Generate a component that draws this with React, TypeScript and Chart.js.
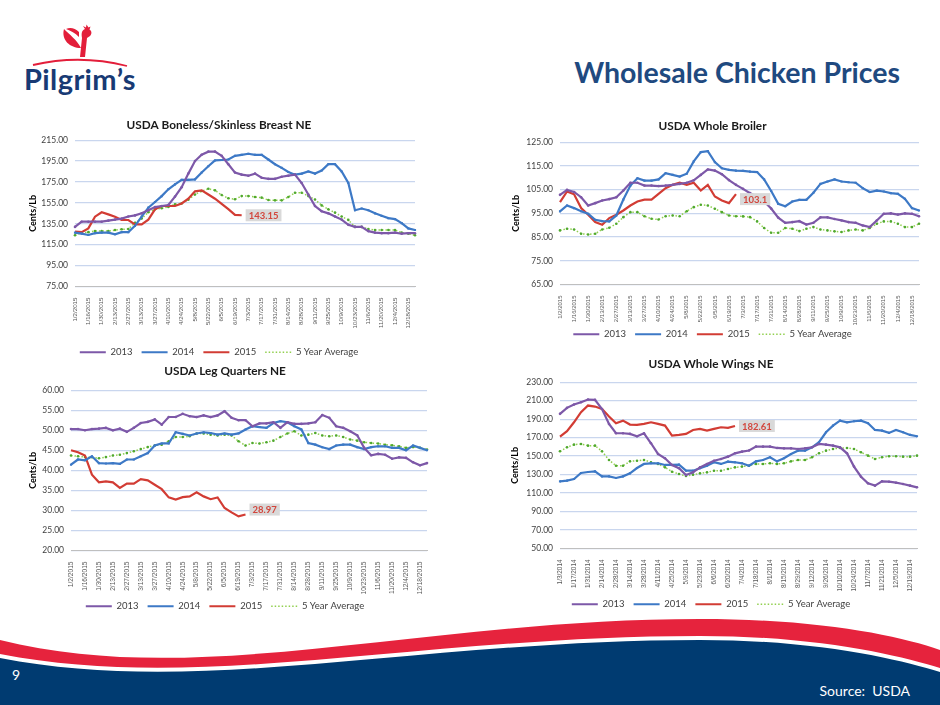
import { useEffect, useRef } from "react";
import { Chart, registerables } from "chart.js";

Chart.register(...registerables);
Chart.defaults.font.family = "Lato, 'Open Sans', sans-serif";

const weeks2015 = [
  "1/2/2015", "1/9/2015", "1/16/2015", "1/23/2015", "1/30/2015", "2/6/2015", "2/13/2015", "2/20/2015",
  "2/27/2015", "3/6/2015", "3/13/2015", "3/20/2015", "3/27/2015", "4/3/2015", "4/10/2015", "4/17/2015",
  "4/24/2015", "5/1/2015", "5/8/2015", "5/15/2015", "5/22/2015", "5/29/2015", "6/5/2015", "6/12/2015",
  "6/19/2015", "6/26/2015", "7/3/2015", "7/10/2015", "7/17/2015", "7/24/2015", "7/31/2015", "8/7/2015",
  "8/14/2015", "8/21/2015", "8/28/2015", "9/4/2015", "9/11/2015", "9/18/2015", "9/25/2015", "10/2/2015",
  "10/9/2015", "10/16/2015", "10/23/2015", "10/30/2015", "11/6/2015", "11/13/2015", "11/20/2015", "11/27/2015",
  "12/4/2015", "12/11/2015", "12/18/2015", "12/25/2015",
];

const weeks2014 = [
  "1/3/2014", "1/10/2014", "1/17/2014", "1/24/2014", "1/31/2014", "2/7/2014", "2/14/2014", "2/21/2014",
  "2/28/2014", "3/7/2014", "3/14/2014", "3/21/2014", "3/28/2014", "4/4/2014", "4/11/2014", "4/18/2014",
  "4/25/2014", "5/2/2014", "5/9/2014", "5/16/2014", "5/23/2014", "5/30/2014", "6/6/2014", "6/13/2014",
  "6/20/2014", "6/27/2014", "7/4/2014", "7/11/2014", "7/18/2014", "7/25/2014", "8/1/2014", "8/8/2014",
  "8/15/2014", "8/22/2014", "8/29/2014", "9/5/2014", "9/12/2014", "9/19/2014", "9/26/2014", "10/3/2014",
  "10/10/2014", "10/17/2014", "10/24/2014", "10/31/2014", "11/7/2014", "11/14/2014", "11/21/2014", "11/28/2014",
  "12/5/2014", "12/12/2014", "12/19/2014", "12/26/2014",
];

const seriesNames = ["2013", "2014", "2015", "5 Year Average"];

// USDA Boneless/Skinless Breast NE
const breast2013 = [132, 137, 137, 137, 137, 138, 139, 140, 142, 143, 145, 148, 151, 152, 153, 161, 170, 183, 195, 201, 204, 204, 200, 192, 184, 182, 181, 183, 179, 178, 178, 180, 181, 182, 174, 163, 152, 147, 145, 142, 139, 134, 132, 132, 128, 126.5, 126, 126, 126.5, 125.5, 126, 126];
const breast2014 = [126.5, 125.6, 124.3, 126, 126.5, 126.5, 125, 127, 127, 133, 141.8, 150.4, 155.8, 161.5, 168, 172.7, 177, 177, 177.5, 184, 190, 195.6, 196, 196.5, 200, 201, 202, 201, 201, 196.5, 192, 188.5, 184.5, 182, 183, 185, 183, 186, 192, 192, 185, 174, 148, 149.6, 148, 145, 142.6, 140.4, 139.5, 135.6, 130.6, 129];
const breast2015 = [127.5, 127, 130.6, 141.8, 146, 144, 141.8, 138.6, 138.6, 134.5, 134.5, 139, 148.8, 152, 152, 152, 154.5, 159, 166, 167, 163, 159, 154, 149, 143.5, 143.15];
const breastAvg = [124, 126.5, 127, 128, 128, 128, 129, 129.7, 130, 136, 140, 146, 148.8, 149.8, 151, 153.6, 154.5, 158, 163, 166.3, 168.5, 167, 162.5, 159.4, 158.5, 161.5, 161.5, 160.6, 160, 157.7, 157.4, 157.4, 160.6, 164.7, 164.7, 161.5, 158.3, 152.6, 148.8, 145.7, 141.9, 138.7, 132, 132, 130, 129, 129, 129, 129, 126.5, 125.5, 124];

// USDA Whole Broiler
const broiler2013 = [102.8, 104.9, 104, 101.8, 98.3, 99.3, 100.4, 101, 101.8, 104.6, 107.9, 107.9, 106.7, 106.7, 106.5, 106.7, 107, 107.4, 107.9, 108.9, 111.2, 113.5, 113, 111.5, 109, 107, 105.3, 103.5, 102, 100, 97, 93.2, 91, 91.3, 91.7, 90.3, 91, 93.3, 93.3, 92.6, 92, 91.3, 91, 89.9, 89.2, 92, 94.8, 95, 94.5, 95, 94.8, 93.8];
const broiler2014 = [95.8, 98.3, 97.2, 95.9, 94.8, 92.3, 91.7, 91.6, 94.1, 100.8, 106.7, 109.8, 108.8, 108.8, 109.3, 111.9, 111.2, 110.5, 111.7, 116.9, 120.8, 121.2, 116.6, 114, 113.3, 113, 112.9, 112.6, 112.4, 109.3, 104.4, 99, 98, 100, 100.7, 100.7, 103.7, 107.4, 108.4, 109.3, 108.4, 108.1, 107.9, 105.6, 104, 104.6, 104.2, 103.5, 103.2, 101.1, 97.2, 96.2];
const broiler2015 = [99.7, 104.2, 103, 97.2, 94.4, 91.3, 90.2, 93, 94.4, 96.2, 98.3, 100, 100.8, 100.8, 103.2, 105.6, 107, 107.9, 107, 107.9, 104.6, 107, 102.1, 100.4, 99.3, 103.1];
const broilerAvg = [87.8, 88.5, 88.2, 86.4, 86.1, 86.4, 88.2, 88.9, 90.6, 93.4, 95.5, 95.5, 93.8, 92.7, 92.4, 93.8, 94.1, 93.8, 95.9, 97.6, 98.6, 98.3, 96.9, 95.5, 94.1, 93.8, 93.7, 93.4, 91.6, 88.8, 86.8, 86.8, 88.8, 88.5, 87.5, 88.5, 89.2, 88.2, 87.8, 87.4, 87.1, 87.8, 88.2, 87.8, 88.8, 90.6, 91.6, 91.6, 90.6, 89.2, 89.2, 90.6];

// USDA Leg Quarters NE
const leg2013 = [50.3, 50.3, 50, 50.3, 50.4, 50.6, 50, 50.4, 49.6, 50.6, 51.8, 52.1, 52.7, 51.4, 53.3, 53.3, 54.1, 53.5, 53.3, 53.7, 53.3, 53.7, 54.75, 53.1, 52.5, 52.5, 51, 51.7, 51.7, 52, 50.6, 52, 51.6, 51.6, 51.7, 52, 53.8, 53.1, 51, 50.6, 49.75, 48.75, 45.6, 43.75, 44.1, 43.9, 42.9, 43.25, 43.1, 42, 41.25, 41.8];
const leg2014 = [41.4, 42.7, 42.5, 43.5, 41.8, 41.7, 41.8, 41.6, 42.7, 42.7, 43.5, 44.3, 46.2, 46.7, 46.7, 49.5, 49.1, 48.7, 49.2, 49.5, 49.3, 48.9, 49.2, 48.9, 49.2, 50.2, 51, 50.8, 50.6, 51.8, 52.25, 52, 51, 50.2, 46.8, 46.4, 45.75, 45.3, 46.2, 46.4, 46.4, 45.8, 45.3, 45.8, 46, 46, 45.6, 45.6, 45, 46.2, 45.6, 45];
const leg2015 = [45, 44.5, 43.7, 38.9, 37, 37.25, 37, 35.6, 36.7, 36.7, 37.8, 37.5, 36.4, 35.3, 33.25, 32.7, 33.3, 33.5, 34.5, 33.5, 32.8, 33.25, 30.6, 29.5, 28.5, 28.97];
const legAvg = [43.7, 43.5, 43.3, 43.25, 43, 43.3, 43.7, 43.9, 44.3, 44.75, 45.3, 45.8, 46.2, 46.4, 47.25, 48.3, 48.3, 48.5, 49.2, 49.2, 48.9, 48.7, 48.9, 48.7, 47.25, 46.2, 46.8, 46.7, 47, 47.4, 48.3, 49.2, 49.75, 48.7, 48.9, 49.3, 48.7, 48.5, 48.7, 48.3, 47.7, 47.4, 47, 46.8, 46.7, 46.4, 46.25, 46, 45.6, 45.8, 45.6, 45.2];

// USDA Whole Wings NE
const wings2013 = [195.7, 202.2, 205.8, 208.3, 211.2, 210.8, 201, 184.8, 174.7, 174.7, 174, 171.5, 174.7, 163.9, 152.3, 147.6, 140.4, 136.8, 129.5, 132.4, 137.8, 141.5, 145, 146.9, 149.4, 153, 154.8, 156, 160.2, 160.2, 160.2, 158.8, 158.4, 158.4, 157.7, 158.4, 159.5, 163.1, 162.4, 161.3, 159.5, 153, 138.6, 127.7, 120.5, 118, 122.7, 122.3, 121.2, 119.8, 118, 116.2];
const wings2014 = [122.7, 123.4, 125.2, 131.7, 132.8, 133.5, 128.1, 128.1, 126.3, 128.1, 131.3, 137.1, 141.5, 142.2, 142.2, 140.4, 140.4, 140.7, 134.2, 134.2, 136.8, 139.6, 143.3, 141.5, 144, 143.3, 142.2, 139.6, 144.3, 145.8, 148.7, 144.3, 147.6, 152.3, 155.9, 155.9, 159.5, 165, 175.8, 183, 188.4, 186.6, 187.7, 188.4, 185.5, 178.3, 177.6, 175.1, 178.3, 175.8, 172.9, 171.5];
const wings2015 = [171.1, 176.9, 186.6, 197.5, 204.7, 203.6, 201.1, 192.8, 185.5, 188.4, 184.1, 183.7, 184.8, 186.6, 184.8, 183, 172.2, 172.9, 174, 178.3, 179.4, 177.6, 179.4, 181.2, 180.5, 182.61];
const wingsAvg = [155.2, 159.5, 162.4, 163.1, 161.3, 161.3, 155.2, 145.8, 139.6, 139.6, 144.3, 145, 145.8, 143.3, 141.5, 137.8, 133.1, 130.6, 128.4, 129.9, 131.3, 132.4, 134.2, 134.2, 136, 137.8, 138.6, 139.6, 141.5, 141.5, 142.2, 141.5, 142.2, 144.3, 145.8, 145.8, 148.7, 153, 155.9, 157.7, 158.8, 158.8, 157.7, 154.1, 150.5, 146.9, 148.7, 149.8, 149.8, 149.4, 149.4, 150.5];

const purple = "#7D58A8";
const blue = "#3D79C6";
const red = "#D23C34";
const green = "#92D050";
const greenDot = "#4FA82E";
const navy = "#1F4A80";
const tickFont = "'Liberation Sans', Arial, sans-serif";

// draws the grey call-out with the latest 2015 value next to its point
const lastValueLabel = {
  id: "lastValueLabel",
  afterDatasetsDraw(chart: any, _args: any, opts: any) {
    const meta = chart.getDatasetMeta(2);
    const pts = meta.data;
    if (!pts.length) return;
    const p = pts[pts.length - 1];
    const values = chart.data.datasets[2].data;
    const text = String(values[values.length - 1]);
    const dy = opts.dy || 0;
    const ctx = chart.ctx;
    ctx.save();
    ctx.font = "bold 9.5px Lato, sans-serif";
    const w = ctx.measureText(text).width + 6;
    const h = 12;
    const x = p.x + 4;
    const y = p.y + dy;
    ctx.fillStyle = "#D9D9D9";
    ctx.fillRect(x, y - h / 2, w, h);
    ctx.fillStyle = "#D2463C";
    ctx.textBaseline = "middle";
    ctx.fillText(text, x + 3, y + 0.5);
    ctx.restore();
  },
};

// rotated date labels may run a little past the axis box, so don't clip them
const noTickClip = {
  id: "noTickClip",
  beforeDraw(chart: any) {
    chart.scales.x._computeLabelArea = () => undefined;
  },
};

type PanelProps = {
  title: string;
  labels: string[];
  series: number[][];
  yMin: number;
  yMax: number;
  yStep: number;
  left: number;
  top: number;
  width: number;
  height: number;
  yAxisWidth: number;
  xAxisHeight: number;
  xTickSize: number;
  titlePadBottom: number;
  padRight: number;
  labelDy: number;
};

function PricePanel(props: PanelProps) {
  const canvasRef = useRef<HTMLCanvasElement>(null);

  useEffect(() => {
    if (!canvasRef.current) return;
    const { labels, series } = props;
    const colors = [purple, blue, red, green];

    const chart = new Chart(canvasRef.current, {
      type: "line",
      data: {
        labels,
        datasets: series.map((data, i) => ({
          label: seriesNames[i],
          data,
          borderColor: colors[i],
          backgroundColor: i === 3 ? greenDot : colors[i],
          borderWidth: i === 3 ? 1.5 : 2.2,
          borderDash: i === 3 ? [1.5, 2] : [],
          pointRadius: i === 2 ? 0 : i === 1 ? 1.5 : 1.3,
          pointStyle: i === 1 ? "rect" : "circle",
          pointBorderWidth: 0,
          tension: 0,
        })),
      },
      options: {
        animation: false,
        responsive: true,
        maintainAspectRatio: false,
        layout: { padding: { right: props.padRight } },
        plugins: {
          title: {
            display: true,
            text: props.title,
            color: "#1a1a1a",
            font: { size: 11.8, weight: "bold" },
            padding: { top: 6, bottom: props.titlePadBottom },
          },
          legend: {
            position: "bottom",
            labels: {
              usePointStyle: true,
              pointStyleWidth: 26,
              color: "#404040",
              font: { size: 9.5 },
              padding: 9,
              generateLabels: (c: any) =>
                c.data.datasets.map((ds: any, i: number) => ({
                  text: ds.label,
                  fillStyle: ds.borderColor,
                  strokeStyle: ds.borderColor,
                  lineWidth: ds.borderWidth,
                  lineDash: ds.borderDash,
                  pointStyle: "line",
                  fontColor: "#404040",
                  hidden: false,
                  datasetIndex: i,
                })),
            },
          },
          tooltip: { enabled: false },
          lastValueLabel: { dy: props.labelDy },
        },
        scales: {
          x: {
            grid: { display: false },
            border: { display: true, color: "#BFBFBF" },
            ticks: {
              autoSkip: false,
              minRotation: 90,
              maxRotation: 90,
              padding: 3,
              color: "#595959",
              font: { size: props.xTickSize, family: tickFont },
              callback: (_v: any, i: number) => (i % 2 === 0 ? labels[i] : ""),
            },
            afterFit: (scale: any) => {
              scale.height = props.xAxisHeight;
            },
          },
          y: {
            min: props.yMin,
            max: props.yMax,
            grid: { color: "#C9D6EE", lineWidth: 1.2, drawTicks: false },
            border: { display: false },
            ticks: {
              stepSize: props.yStep,
              padding: 7,
              color: "#404040",
              font: { size: 8.5 },
              callback: (v: any) => Number(v).toFixed(2),
            },
            title: {
              display: true,
              text: "Cents/Lb",
              color: "#000",
              font: { size: 9, weight: "bold" },
              padding: { top: 5, bottom: 0 },
            },
            afterFit: (scale: any) => {
              scale.width = props.yAxisWidth;
            },
          },
        },
      },
      plugins: [lastValueLabel, noTickClip],
    } as any);

    return () => {
      chart.destroy();
    };
  }, [props]);

  return (
    <div
      style={{
        position: "absolute",
        left: props.left,
        top: props.top,
        width: props.width,
        height: props.height,
      }}
    >
      <canvas ref={canvasRef} />
    </div>
  );
}

function Logo() {
  return (
    <div style={{ position: "absolute", left: 0, top: 0, width: 170, height: 110 }}>
      <svg width="170" height="110" style={{ position: "absolute", left: 0, top: 0 }}>
        {/* sickle tail */}
        <path d="M81 48 C 70 48, 61 40, 64 29 C 70 35, 76 39, 81 48 Z" fill="#E31E3A" />
        <path d="M66 29 C 70 27, 75 28, 79 32 L 79 37 C 75 33, 71 31, 66 29 Z" fill="#E31E3A" />
        {/* neck and head */}
        <path d="M80 57 L 82 38 C 81 33, 82 30, 85 29 L 83 26 L 86 27.5 L 86.5 24.5 L 88.5 27.5 L 90.5 26.5 L 89.5 29.5 C 92 31, 92 34, 90 36 L 87 38 L 85 57 Z" fill="#E31E3A" />
        <path d="M33 65 Q 80 54 127 66" stroke="#E31E3A" strokeWidth="1.8" fill="none" />
      </svg>
      <div
        style={{
          position: "absolute",
          left: 24,
          top: 63,
          fontFamily: "Lato, sans-serif",
          fontWeight: 700,
          fontSize: 29,
          lineHeight: "32px",
          color: "#183A74",
          letterSpacing: 0.4,
        }}
      >
        Pilgrim’s
      </div>
    </div>
  );
}

function Footer() {
  return (
    <svg width="940" height="100" viewBox="0 605 940 100" style={{ position: "absolute", left: 0, top: 605 }}>
      <path d="M0 640 C 200 690, 420 619, 700 619 C 820 619, 900 636, 940 650 L 940 705 L 0 705 Z" fill="#E6233D" />
      <path d="M0 654 C 200 693, 420 636, 700 636 C 820 636, 900 656, 940 668 L 940 705 L 0 705 Z" fill="#FFFFFF" />
      <path d="M0 658 C 200 697, 420 640, 700 640 C 820 640, 900 660, 940 672 L 940 705 L 0 705 Z" fill="#003B71" />
    </svg>
  );
}

export default function App() {
  return (
    <div
      style={{
        position: "fixed",
        left: 0,
        top: 0,
        width: 940,
        height: 705,
        background: "#fff",
        overflow: "hidden",
        fontFamily: "Lato, sans-serif",
      }}
    >
      <Footer />
      <Logo />
      <div
        style={{
          position: "absolute",
          right: 40,
          top: 57,
          fontSize: 28.5,
          lineHeight: "31px",
          fontWeight: 700,
          color: navy,
        }}
      >
        Wholesale Chicken Prices
      </div>

      <PricePanel
        title="USDA Boneless/Skinless Breast NE"
        labels={weeks2015}
        series={[breast2013, breast2014, breast2015, breastAvg]}
        yMin={75}
        yMax={215}
        yStep={20}
        left={23}
        top={112}
        width={407}
        height={255}
        yAxisWidth={52}
        xAxisHeight={52}
        xTickSize={6.2}
        titlePadBottom={8}
        padRight={15}
        labelDy={0}
      />
      <PricePanel
        title="USDA Whole Broiler"
        labels={weeks2015}
        series={[broiler2013, broiler2014, broiler2015, broilerAvg]}
        yMin={65}
        yMax={125}
        yStep={10}
        left={506}
        top={113}
        width={428}
        height={236}
        yAxisWidth={54}
        xAxisHeight={36}
        xTickSize={6}
        titlePadBottom={9}
        padRight={15}
        labelDy={5}
      />
      <PricePanel
        title="USDA Leg Quarters NE"
        labels={weeks2015}
        series={[leg2013, leg2014, leg2015, legAvg]}
        yMin={20}
        yMax={60}
        yStep={5}
        left={23}
        top={358}
        width={415}
        height={263}
        yAxisWidth={48}
        xAxisHeight={42}
        xTickSize={6.6}
        titlePadBottom={12}
        padRight={11}
        labelDy={-5}
      />
      <PricePanel
        title="USDA Whole Wings NE"
        labels={weeks2014}
        series={[wings2013, wings2014, wings2015, wingsAvg]}
        yMin={50}
        yMax={230}
        yStep={20}
        left={505}
        top={351}
        width={430}
        height={268}
        yAxisWidth={55}
        xAxisHeight={42}
        xTickSize={6.4}
        titlePadBottom={11}
        padRight={18}
        labelDy={0}
      />

      <div style={{ position: "absolute", left: 12, top: 666, color: "#fff", fontSize: 14 }}>9</div>
      <div style={{ position: "absolute", right: 30, top: 682, color: "#fff", fontSize: 14 }}>Source:&nbsp; USDA</div>
    </div>
  );
}
